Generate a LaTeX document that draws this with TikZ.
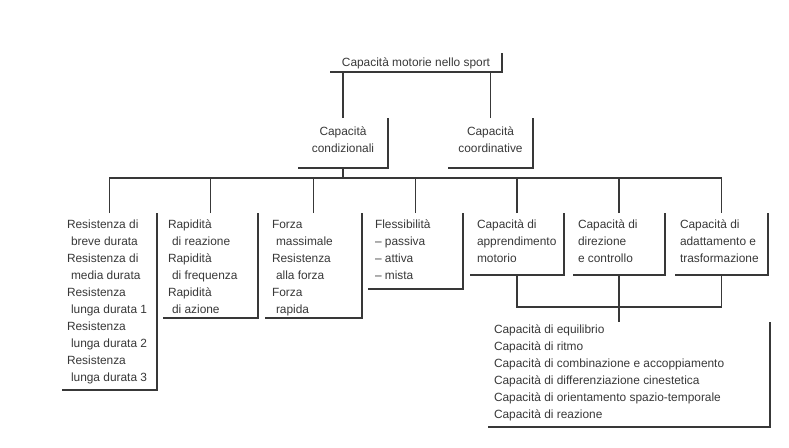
\documentclass[tikz,border=0pt]{standalone}
\usepackage{fontspec}
\setmainfont{Liberation Sans}
\newcommand{\lbtext}[5]{\parbox[t][#2][t]{#1}{\fontsize{11.9}{17.1}\selectfont\raggedright\leftskip=#3\relax\rule{0pt}{#4}#5}}
\newcommand{\cbtext}[4]{\parbox[t][#2][t]{#1}{\fontsize{11.9}{17.1}\selectfont\centering\rule{0pt}{#3}#4}}
\tikzset{
  lbox/.style={inner sep=0pt, outer sep=0pt, anchor=north west, text=black!78},
  edge/.style={draw=black!78, line width=1.2pt},
  conn/.style={draw=black!78, line width=1.2pt}
}
\begin{document}
\begin{tikzpicture}[x=1pt,y=-1pt]
\useasboundingbox (0,0) rectangle (789,447);
% boxes
\node[lbox] (top) at (330,53) {\cbtext{172pt}{19pt}{13pt}{Capacità motorie nello sport}};
\node[lbox] (cond) at (298,118) {\cbtext{90pt}{50pt}{17pt}{Capacità\\condizionali}};
\node[lbox] (coord) at (448,118) {\cbtext{85pt}{50pt}{17pt}{Capacità\\coordinative}};
\node[lbox] (b1) at (62,213) {\lbtext{95pt}{177pt}{5pt}{15pt}{Resistenza di\\\hspace*{4pt}breve durata\\Resistenza di\\\hspace*{4pt}media durata\\Resistenza\\\hspace*{4pt}lunga durata 1\\Resistenza\\\hspace*{4pt}lunga durata 2\\Resistenza\\\hspace*{4pt}lunga durata 3}};
\node[lbox] (b2) at (163,213) {\lbtext{95pt}{105pt}{5pt}{15pt}{Rapidità\\\hspace*{4pt}di reazione\\Rapidità\\\hspace*{4pt}di frequenza\\Rapidità\\\hspace*{4pt}di azione}};
\node[lbox] (b3) at (265,213) {\lbtext{97pt}{105pt}{7pt}{15pt}{Forza\\\hspace*{4pt}massimale\\Resistenza\\\hspace*{4pt}alla forza\\Forza\\\hspace*{4pt}rapida}};
\node[lbox] (b4) at (368,213) {\lbtext{95pt}{76pt}{7pt}{15pt}{Flessibilità\\– passiva\\– attiva\\– mista}};
\node[lbox] (b5) at (470,213) {\lbtext{94pt}{62pt}{7pt}{15pt}{Capacità di\\apprendimento\\motorio}};
\node[lbox] (b6) at (573,213) {\lbtext{92pt}{62pt}{5pt}{15pt}{Capacità di\\direzione\\e controllo}};
\node[lbox] (b7) at (675,213) {\lbtext{93pt}{62pt}{5pt}{15pt}{Capacità di\\adattamento e\\trasformazione}};
\node[lbox] (bot) at (488,322) {\lbtext{282pt}{105pt}{6pt}{11pt}{Capacità di equilibrio\\Capacità di ritmo\\Capacità di combinazione e accoppiamento\\Capacità di differenziazione cinestetica\\Capacità di orientamento spazio-temporale\\Capacità di reazione}};
% L-shaped outlines
\foreach \b in {top,cond,coord,b1,b2,b3,b4,b5,b6,b7,bot}
  \draw[edge] (\b.south west) -- (\b.south east) -- (\b.north east);
% connectors
\coordinate (bus) at (0,178);
\coordinate (jn) at (0,307);
\draw[conn] (cond.north) -- (cond.north |- top.south);
\draw[conn] (coord.north) -- (coord.north |- top.south);
\draw[conn] (cond.south) -- (cond.south |- bus);
\draw[conn] (b1.north) -- (b1.north |- bus) -- (b7.north |- bus) -- (b7.north);
\foreach \b in {b2,b3,b4,b5,b6}
  \draw[conn] (\b.north) -- (\b.north |- bus);
\draw[conn] (b5.south) -- (b5.south |- jn) -- (b7.south |- jn) -- (b7.south);
\draw[conn] (b6.south) -- (b6.south |- bot.north);
\end{tikzpicture}
\end{document}
